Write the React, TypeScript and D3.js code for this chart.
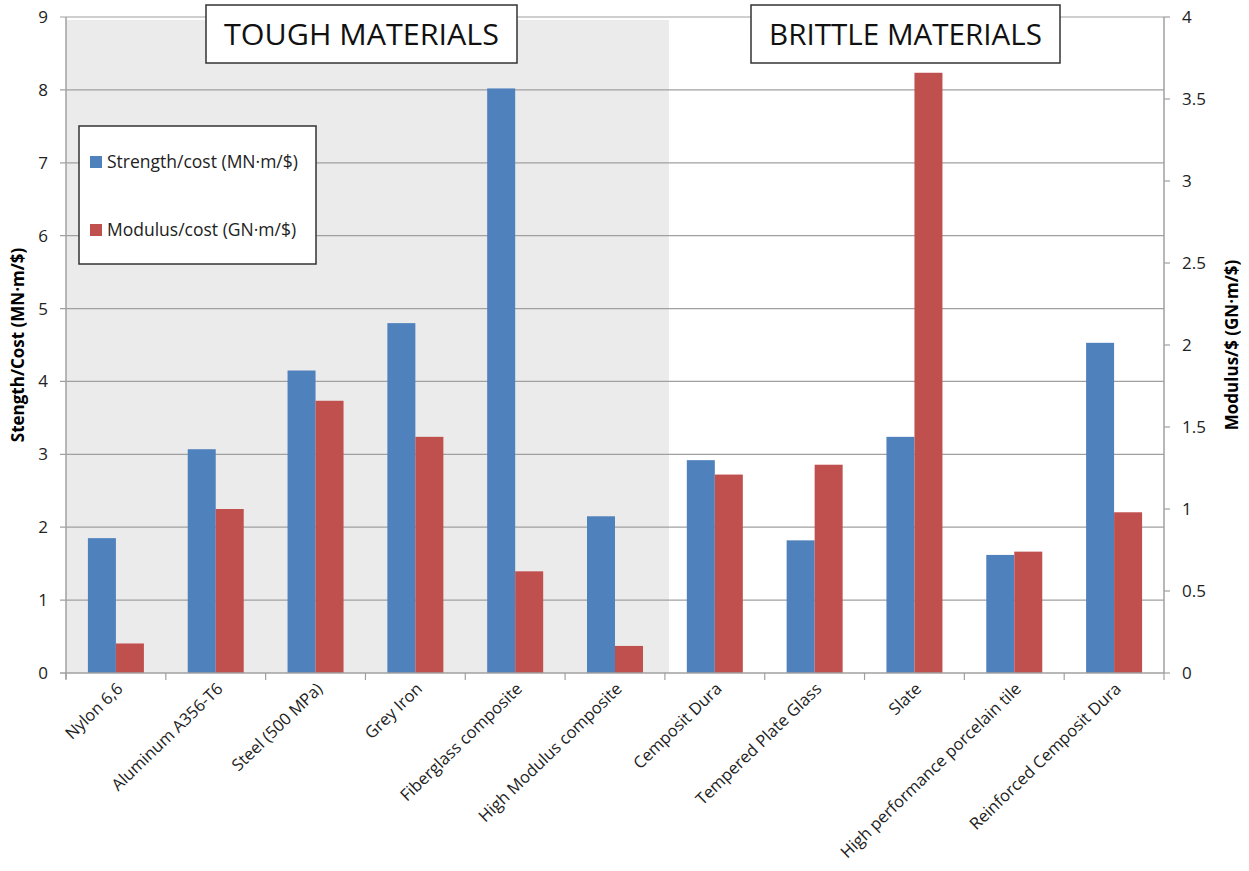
import React, { useEffect, useRef } from 'react';
import * as d3 from 'd3';

const categories = [
  'Nylon 6,6', 'Aluminum A356-T6', 'Steel (500 MPa)', 'Grey Iron', 'Fiberglass composite',
  'High Modulus composite', 'Cemposit Dura', 'Tempered Plate Glass', 'Slate',
  'High performance porcelain tile', 'Reinforced Cemposit Dura',
];
const strengthCost = [1.85, 3.07, 4.15, 4.8, 8.02, 2.15, 2.92, 1.82, 3.24, 1.62, 4.53];
const modulusCost = [0.18, 1.0, 1.66, 1.44, 0.62, 0.165, 1.21, 1.27, 3.66, 0.74, 0.98];
const leftTicks = [0, 1, 2, 3, 4, 5, 6, 7, 8, 9];
const rightTicks = [0, 0.5, 1, 1.5, 2, 2.5, 3, 3.5, 4];
const toughCount = 6;

const FONT = '"Open Sans", "DejaVu Sans", sans-serif';
const BLUE = '#4f81bd';
const RED = '#c0504d';
const AXIS = '#a0a0a0';

function drawChart(svgRoot: SVGSVGElement) {
  const svg = d3.select(svgRoot);
  svg.selectChildren().remove();

  const width = 1249;
  const height = 871;
  const left = 66, right = 1164, top = 17, bottom = 673;

  const x = d3.scaleBand<string>().domain(categories).range([left, right]);
  const yL = d3.scaleLinear().domain([0, 9]).range([bottom, top]);
  const yR = d3.scaleLinear().domain([0, 4]).range([bottom, top]);
  const barW = 28;

  svg.attr('viewBox', [0, 0, width, height] as any).attr('width', width).attr('height', height);
  svg.append('rect').attr('width', width).attr('height', height).attr('fill', '#fff');

  // shaded "tough" region
  svg.append('rect')
    .attr('x', left)
    .attr('y', yL(9) + 3)
    .attr('width', (x(categories[toughCount]) as number) - left + 4)
    .attr('height', bottom - yL(9) - 3)
    .attr('fill', '#ebebeb');

  // gridlines
  svg.append('g').selectAll('line').data(leftTicks.filter((d) => d > 0)).enter().append('line')
    .attr('x1', left - 6).attr('x2', right)
    .attr('y1', (d) => yL(d)).attr('y2', (d) => yL(d))
    .attr('stroke', AXIS).attr('stroke-width', 1.2);

  // bars
  const bars = svg.append('g');
  bars.selectAll('.blue').data(strengthCost).enter().append('rect')
    .attr('x', (d, i) => (x(categories[i]) as number) + x.bandwidth() / 2 - barW)
    .attr('y', (d) => yL(d))
    .attr('width', barW)
    .attr('height', (d) => bottom - yL(d))
    .attr('fill', BLUE);
  bars.selectAll('.red').data(modulusCost).enter().append('rect')
    .attr('x', (d, i) => (x(categories[i]) as number) + x.bandwidth() / 2)
    .attr('y', (d) => yR(d))
    .attr('width', barW)
    .attr('height', (d) => bottom - yR(d))
    .attr('fill', RED);

  // left axis
  const gl = svg.append('g');
  gl.append('line').attr('x1', left).attr('x2', left).attr('y1', top).attr('y2', bottom + 6)
    .attr('stroke', AXIS).attr('stroke-width', 1.5);
  gl.selectAll('text').data(leftTicks).enter().append('text')
    .attr('x', 48).attr('y', (d) => yL(d)).attr('dy', '0.35em')
    .attr('text-anchor', 'end').attr('font-family', FONT).attr('font-size', 17).attr('fill', '#222')
    .text((d) => d);

  // right axis
  const gr = svg.append('g');
  gr.append('line').attr('x1', right).attr('x2', right).attr('y1', top).attr('y2', bottom)
    .attr('stroke', AXIS).attr('stroke-width', 1.5);
  gr.selectAll('line.t').data(rightTicks).enter().append('line')
    .attr('x1', right).attr('x2', right + 6)
    .attr('y1', (d) => yR(d)).attr('y2', (d) => yR(d))
    .attr('stroke', AXIS).attr('stroke-width', 1.2);
  gr.selectAll('text').data(rightTicks).enter().append('text')
    .attr('x', 1182).attr('y', (d) => yR(d)).attr('dy', '0.35em')
    .attr('text-anchor', 'start').attr('font-family', FONT).attr('font-size', 17).attr('fill', '#222')
    .text((d) => d);

  // bottom axis
  const gb = svg.append('g');
  gb.append('line').attr('x1', left - 6).attr('x2', right).attr('y1', bottom).attr('y2', bottom)
    .attr('stroke', AXIS).attr('stroke-width', 1.5);
  gb.selectAll('line.t').data(d3.range(categories.length + 1)).enter().append('line')
    .attr('x1', (i) => left + i * x.step()).attr('x2', (i) => left + i * x.step())
    .attr('y1', bottom).attr('y2', bottom + 7)
    .attr('stroke', AXIS).attr('stroke-width', 1.2);
  gb.selectAll('text').data(categories).enter().append('text')
    .attr('transform', (d) => `translate(${(x(d) as number) + x.bandwidth() / 2 + 8},${bottom + 17}) rotate(-44)`)
    .attr('text-anchor', 'end').attr('font-family', FONT).attr('font-size', 16.5).attr('fill', '#222')
    .text((d) => d);

  // axis titles
  svg.append('text')
    .attr('transform', `translate(24,${(top + bottom) / 2}) rotate(-90)`)
    .attr('text-anchor', 'middle').attr('font-family', FONT).attr('font-size', 17).attr('font-weight', 'bold')
    .text('Stength/Cost (MN·m/$)');
  svg.append('text')
    .attr('transform', `translate(1238,${(top + bottom) / 2}) rotate(-90)`)
    .attr('text-anchor', 'middle').attr('font-family', FONT).attr('font-size', 17).attr('font-weight', 'bold')
    .text('Modulus/$ (GN·m/$)');

  // region labels
  const boxes = [
    { label: 'TOUGH MATERIALS', x: 206, w: 311 },
    { label: 'BRITTLE MATERIALS', x: 751, w: 309 },
  ];
  boxes.forEach((b) => {
    svg.append('rect').attr('x', b.x).attr('y', 5).attr('width', b.w).attr('height', 58)
      .attr('fill', '#fff').attr('stroke', '#333').attr('stroke-width', 1.5);
    svg.append('text').attr('x', b.x + b.w / 2).attr('y', 34).attr('dy', '0.35em')
      .attr('text-anchor', 'middle').attr('font-family', FONT).attr('font-size', 30).attr('fill', '#111')
      .attr('textLength', b.w - 36).attr('lengthAdjust', 'spacingAndGlyphs')
      .text(b.label);
  });

  // legend
  const lg = svg.append('g');
  lg.append('rect').attr('x', 79).attr('y', 126).attr('width', 237).attr('height', 138)
    .attr('fill', '#fff').attr('stroke', '#333').attr('stroke-width', 1.5);
  const items = [
    { label: 'Strength/cost (MN·m/$)', color: BLUE, y: 162 },
    { label: 'Modulus/cost (GN·m/$)', color: RED, y: 230 },
  ];
  items.forEach((it) => {
    lg.append('rect').attr('x', 90).attr('y', it.y - 6).attr('width', 12).attr('height', 12).attr('fill', it.color);
    lg.append('text').attr('x', 107).attr('y', it.y).attr('dy', '0.35em')
      .attr('font-family', FONT).attr('font-size', 17.5).attr('fill', '#222').text(it.label);
  });
}

export default function App() {
  const svgRef = useRef<SVGSVGElement>(null);
  useEffect(() => {
    svgRef.current && drawChart(svgRef.current);
  }, []);
  return (
    <div style={{ position: 'absolute', left: 0, top: 0 }}>
      <svg ref={svgRef} style={{ display: 'block' }} />
    </div>
  );
}
